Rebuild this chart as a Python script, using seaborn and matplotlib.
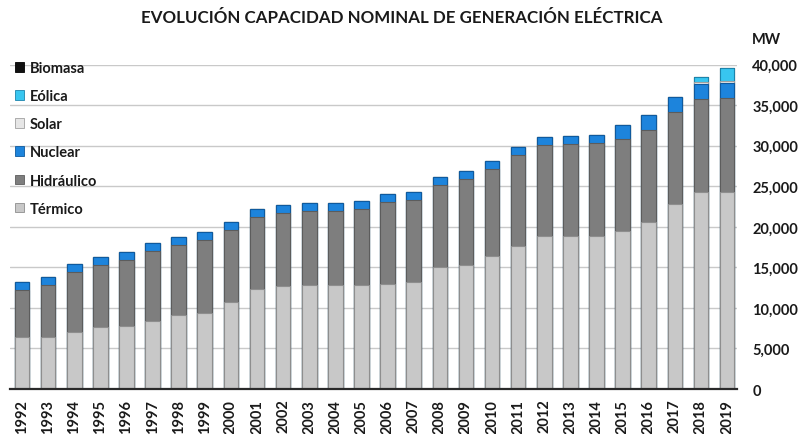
import matplotlib
matplotlib.use("Agg")
import matplotlib.pyplot as plt
from matplotlib.patches import Patch
import numpy as np
import pandas as pd
import seaborn as sns

years = [str(y) for y in range(1992, 2020)]
termico = [6460, 6460, 7080, 7600, 7780, 8440, 9090, 9400, 10720, 12300, 12760, 12880, 12880, 12800,
           13000, 13250, 15000, 15340, 16460, 17700, 18850, 18930, 18930, 19550, 20630, 22840, 24360, 24360]
hidraulico = [5710, 6410, 7320, 7650, 8170, 8560, 8650, 8950, 8860, 8900, 8940, 9080, 9080, 9400,
              10030, 10110, 10170, 10580, 10640, 11130, 11280, 11300, 11370, 11250, 11370, 11340, 11420, 11500]
nuclear = [1000] * 23 + [1800, 1800, 1800, 1840, 1880]
solar = [0] * 26 + [210, 300]
eolica = [0] * 26 + [690, 1560]
biomasa = [0] * 28

series_names = ["Térmico", "Hidráulico", "Nuclear", "Solar", "Eólica", "Biomasa"]
series_vals = [termico, hidraulico, nuclear, solar, eolica, biomasa]
colors = {"Térmico": "#c8c8c8", "Hidráulico": "#7e7e7e", "Nuclear": "#1d84dc",
          "Solar": "#e6e6e6", "Eólica": "#38c6f0", "Biomasa": "#111111"}
edges = {"Térmico": "#8e8e8e", "Hidráulico": "#5c5c5c", "Nuclear": "#0f5a9e",
         "Solar": "#a0a0a0", "Eólica": "#1c84ac", "Biomasa": "#000000"}

sns.set_theme(style="white")
plt.rcParams["font.family"] = ["Lato", "DejaVu Sans"]
plt.rcParams["font.weight"] = "bold"

df = pd.DataFrame({"year": years})
cum = np.zeros(len(years))
for name, vals in zip(series_names, series_vals):
    cum = cum + np.array(vals, dtype=float)
    df[name] = cum.copy()

fig = plt.figure(figsize=(7.98, 4.35), dpi=100)
ax = fig.add_axes([0.0125, 0.1034, 0.9236 - 0.0125, 0.849 - 0.1034])

ax.set_ylim(0, 40000)
ax.set_yticks(range(0, 40001, 5000))
ax.yaxis.grid(True, color="#c9c9c9", linewidth=1.0)
ax.set_axisbelow(True)

# draw from top of stack downwards so lower layers overlay
for name in reversed(series_names):
    sns.barplot(data=df, x="year", y=name, color=colors[name], width=0.56,
                edgecolor=edges[name], linewidth=0.8, saturation=1, ax=ax)

ax.set_xlim(-0.46, 27.38)
ax.set_xlabel("")
ax.set_ylabel("")
for s in ["top", "left", "right"]:
    ax.spines[s].set_visible(False)
ax.spines["bottom"].set_color("#2a2a2a")
ax.spines["bottom"].set_linewidth(1.6)

ax.yaxis.tick_right()
ax.set_yticklabels([f"{v:,}" for v in range(0, 40001, 5000)])
ax.tick_params(axis="y", length=0, pad=11, labelsize=10.5, labelcolor="#1a1a1a")
ax.tick_params(axis="x", length=0, pad=7, labelsize=10.5, labelcolor="#1a1a1a")
for lab in ax.get_xticklabels():
    lab.set_rotation(90)
    lab.set_fontweight("bold")
for lab in ax.get_yticklabels():
    lab.set_fontweight("bold")
    lab.set_ha("left")

fig.text(0.503, 0.958, "EVOLUCIÓN CAPACIDAD NOMINAL DE GENERACIÓN ELÉCTRICA",
         ha="center", va="center", fontsize=12.2, fontweight="bold", color="#1a1a1a")
fig.text(752 / 798, 1 - 40 / 435, "MW", ha="left", va="center",
         fontsize=10.5, fontweight="bold", color="#1a1a1a")

handles = [Patch(facecolor=colors[n], edgecolor=edges[n], linewidth=0.6, label=n)
           for n in reversed(series_names)]
leg = ax.legend(handles=handles, loc="upper left", bbox_to_anchor=(15 / 798, 1 - 62 / 435),
                bbox_transform=fig.transFigure, frameon=False, fontsize=10.5,
                handlelength=0.65, handleheight=0.65, handletextpad=0.35,
                labelspacing=0.97, borderpad=0, borderaxespad=0)
for t in leg.get_texts():
    t.set_fontweight("bold")
    t.set_color("#1a1a1a")

fig.savefig("out.png", dpi=100)
